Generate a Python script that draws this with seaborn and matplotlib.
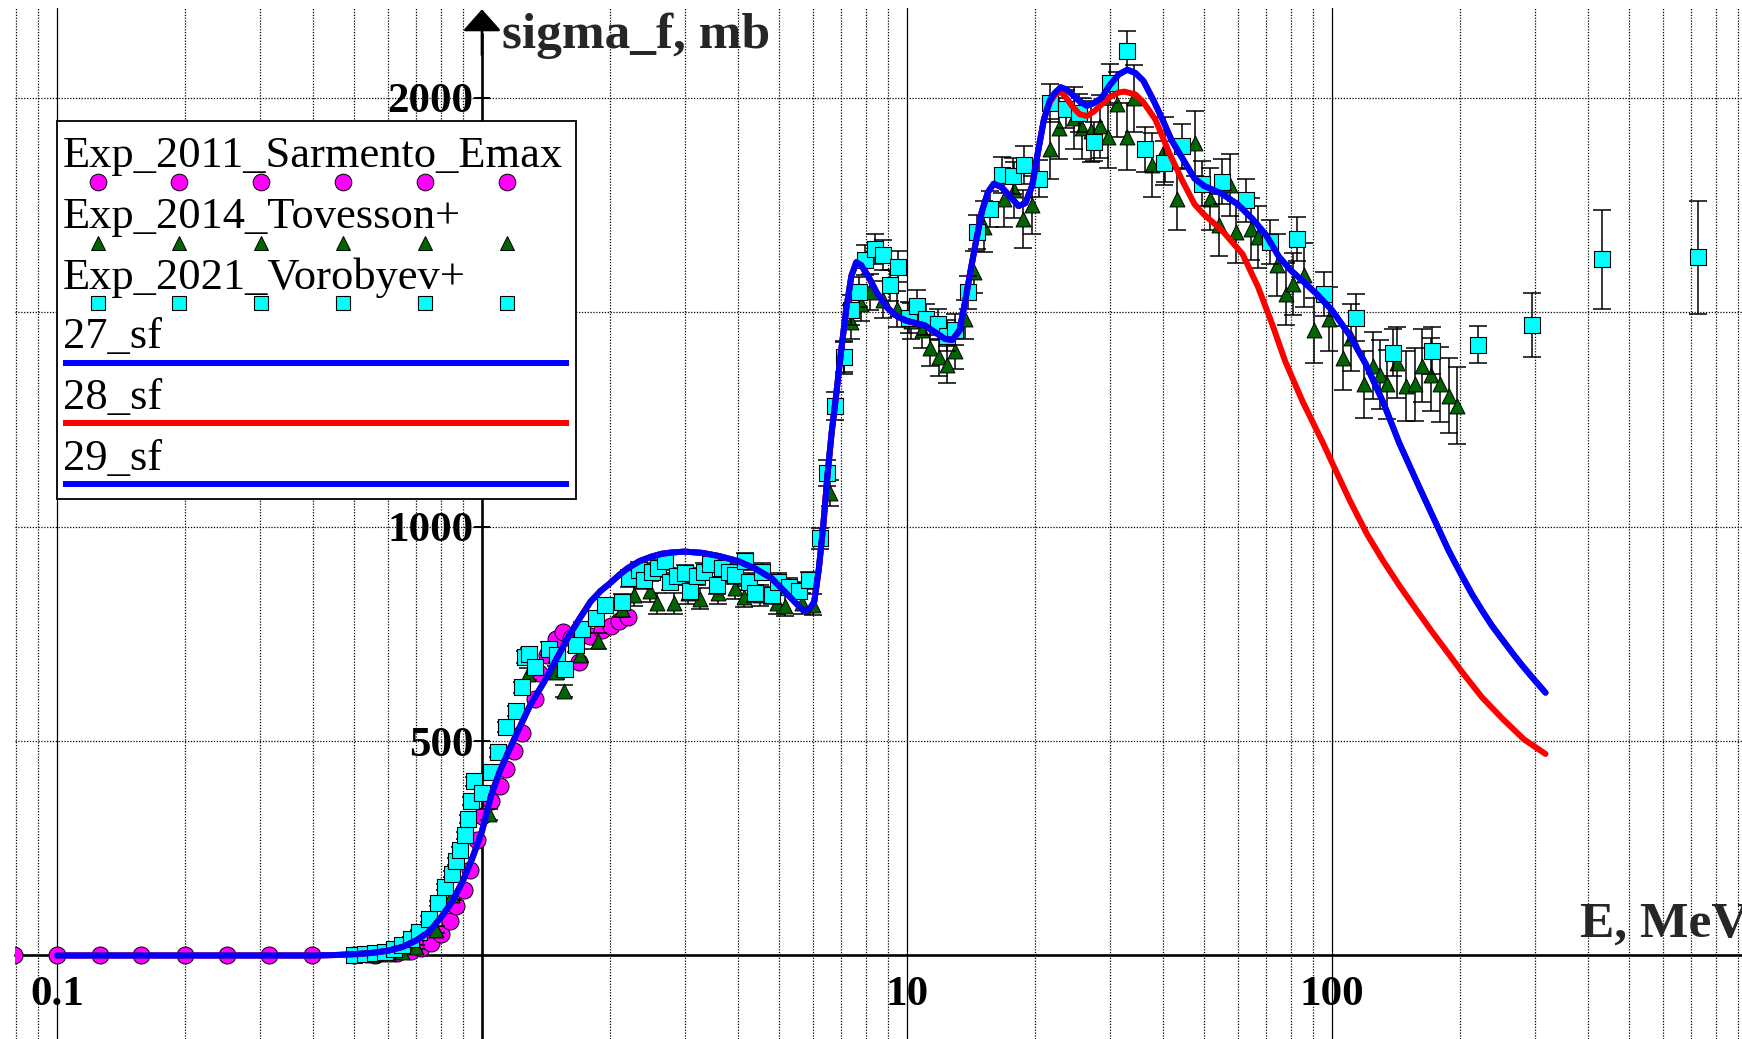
import matplotlib
matplotlib.use("Agg")
import matplotlib.pyplot as plt
import matplotlib.ticker as mticker
from matplotlib.patches import Rectangle
import numpy as np
import pandas as pd
import seaborn as sns

# ---------------- data ----------------
# Exp_2011_Sarmento_Emax  (magenta circles)
sar_E = [0.0794, 0.1, 0.126, 0.158, 0.2, 0.251, 0.316, 0.398, 0.501, 0.56,
         0.63, 0.68, 0.72, 0.76, 0.80, 0.84, 0.87, 0.907, 0.937, 0.973,
         1.0, 1.05, 1.1, 1.14, 1.19, 1.24, 1.33, 1.36, 1.42, 1.49,
         1.55, 1.62, 1.69, 1.80, 1.92, 2.01, 2.10, 2.20]
sar_y = [0, 0, 0, 0, 0, 0, 0, 0, 1, 2,
         5, 10, 17, 30, 50, 80, 115, 153, 200, 270,
         325, 360, 395, 434, 476, 520, 598, 660, 700, 738,
         755, 740, 685, 745, 760, 768, 780, 790]

# Exp_2014_Tovesson+  (green triangles)
tov_E = [0.55, 0.60, 0.65, 0.70, 0.78, 0.85, 1.04, 1.28, 1.49, 1.56, 1.70, 1.88, 2.13,
         2.28, 2.48, 2.58, 2.83, 3.05, 3.26, 3.60, 3.94, 4.13, 4.50, 4.94, 5.16, 5.66, 6.02,
         6.58, 7.10, 7.40, 7.80, 8.17, 8.80, 9.45, 10.2, 10.85, 11.3, 11.9, 12.4, 13.0, 13.7, 14.4,
         15.2, 16.9, 17.9, 18.8, 19.7, 21.7, 22.8, 24.7, 25.8, 27.1, 28.4, 29.7, 31.2, 32.9, 34.3,
         37.7, 40.5, 43.1, 47.5, 51.5, 54.2, 57.5, 59.6,
         64.6, 67.0, 74.2, 78.0, 80.9, 85.9, 90.5, 98.2, 106, 111, 119, 125, 130, 135, 142,
         149, 157, 163, 171, 180, 188, 197]
tov_y = [1, 3, 8, 20, 60, 140, 329, 656, 661, 617, 700, 734, 809,
         840, 849, 821, 821, 845, 832, 845, 856, 837, 840, 821, 816, 821, 818,
         1078, 1395, 1477, 1520, 1547, 1530, 1507, 1480, 1458, 1418, 1395, 1378, 1411, 1484, 1594,
         1700, 1765, 1786, 1718, 1750, 1880, 1929, 1953, 1929, 1922, 1934, 1910, 1985, 1910, 1999,
         1844, 1880, 1765, 1894, 1765, 1703, 1797, 1687,
         1694, 1676, 1610, 1543, 1566, 1587, 1458, 1484, 1394, 1441, 1332, 1376, 1355, 1332, 1383,
         1329, 1332, 1376, 1355, 1332, 1306, 1282]
tov_err = [3, 3, 4, 5, 8, 10, 12, 14, 15, 15, 16, 18, 20,
           25, 25, 25, 25, 25, 25, 25, 25, 25, 25, 25, 25, 25, 25,
           30, 38, 40, 40, 42, 42, 42, 42, 42, 43, 43, 43, 43, 45, 48,
           60, 65, 65, 68, 68, 70, 72, 72, 72, 72, 74, 74, 75, 78, 78,
           75, 75, 72, 75, 72, 72, 72, 72,
           72, 72, 72, 72, 72, 75, 75, 75, 75, 78, 78, 78, 80, 80, 82,
           82, 85, 85, 85, 88, 88, 90]

# Exp_2021_Vorobyev+  (cyan squares)
vor_E = [0.50, 0.53, 0.56, 0.59, 0.62, 0.65, 0.68, 0.71, 0.75, 0.79,
         0.82, 0.85, 0.87, 0.89, 0.91, 0.925, 0.94, 0.957, 1.00, 1.05,
         1.09, 1.14, 1.20, 1.24, 1.26, 1.29, 1.33, 1.44, 1.50, 1.57,
         1.66, 1.72, 1.85, 1.95, 2.13,
         2.22, 2.34, 2.40, 2.51, 2.60, 2.70, 2.77, 2.87, 3.00, 3.08,
         3.20, 3.33, 3.44, 3.57, 3.67, 3.81, 3.94, 4.16, 4.24, 4.39,
         4.55, 4.81, 4.98, 5.27, 5.57, 5.89,
         6.25, 6.49, 6.77, 7.10, 7.38, 7.70, 7.96, 8.40, 8.80, 9.10,
         9.55, 10.1, 10.56, 11.1, 11.8, 12.4, 12.96, 13.9, 14.6, 15.7,
         16.7, 17.8, 18.9, 20.5, 21.7, 23.7, 25.4, 27.6, 30.0, 32.9,
         36.3, 40.2, 44.3, 49.4, 55.0, 62.6, 71.6, 82.9, 95.7, 114,
         139, 172, 220, 295, 433, 727]
vor_y = [2, 3, 5, 8, 14, 25, 38, 55, 85, 122,
         160, 190, 220, 245, 280, 318, 360, 406, 380, 427,
         474, 533, 570, 626, 696, 703, 673, 716, 700, 668,
         723, 762, 786, 817, 825,
         880, 898, 875, 895, 903, 919, 872, 884, 891, 849,
         884, 895, 914, 863, 903, 895, 887, 919, 872, 845,
         895, 840, 872, 860, 851, 875,
         973, 1125, 1282, 1395, 1505, 1547, 1622, 1647, 1633, 1563,
         1606, 1488, 1516, 1484, 1472, 1446, 1460, 1547, 1688, 1741,
         1821, 1817, 1844, 1812, 1988, 1974, 1965, 1898, 2034, 2109,
         1880, 1848, 1887, 1800, 1805, 1761, 1664, 1671, 1543, 1488,
         1406, 1411, 1425, 1470, 1624, 1628]
vor_err = [2, 2, 2, 3, 3, 4, 4, 5, 6, 6,
           7, 7, 8, 8, 8, 9, 9, 10, 10, 11,
           11, 12, 12, 13, 14, 14, 14, 15, 15, 15,
           16, 16, 17, 17, 18,
           20, 20, 20, 20, 20, 20, 20, 20, 20, 20,
           20, 20, 20, 20, 20, 20, 20, 20, 20, 20,
           20, 20, 20, 20, 20, 20,
           25, 30, 32, 35, 35, 35, 35, 35, 35, 36,
           36, 36, 36, 36, 36, 36, 36, 38, 40, 42,
           42, 42, 44, 44, 45, 45, 45, 45, 45, 48,
           52, 52, 52, 52, 52, 50, 52, 52, 52, 55,
           55, 55, 44, 75, 115, 132]

# model curves: common part (27_sf, 28_sf, 29_sf coincide below ~21 MeV)
low_E = [0.10, 0.20, 0.30, 0.40, 0.45, 0.50, 0.55, 0.60, 0.65, 0.70,
         0.75, 0.80, 0.85, 0.90, 0.95, 1.00, 1.05, 1.10, 1.15, 1.20,
         1.30, 1.40, 1.50, 1.60, 1.70, 1.80, 1.90, 2.00, 2.10, 2.20,
         2.35, 2.50, 2.65, 2.80, 3.00, 3.30, 3.60, 4.00, 4.40, 4.80,
         5.20, 5.50, 5.70, 5.90, 6.05, 6.20, 6.35, 6.50, 6.65, 6.80,
         7.00, 7.20, 7.40, 7.60, 7.80, 8.10, 8.50, 9.00, 9.50, 10.0,
         11.0, 11.7, 12.3, 12.8, 13.3, 13.7, 14.1, 14.5, 15.0, 15.5,
         16.0, 16.7, 17.5, 18.3, 19.0, 19.7, 20.3, 21.0]
low_y = [0, 0, 0, 0, 1, 3, 6, 11, 20, 35,
         55, 88, 125, 172, 228, 290, 372, 428, 472, 512,
         585, 638, 693, 745, 787, 825, 850, 868, 887, 903,
         920, 930, 937, 940, 942, 939, 932, 920, 902, 880,
         845, 820, 805, 808, 825, 900, 1000, 1120, 1220, 1300,
         1410, 1510, 1585, 1617, 1610, 1585, 1545, 1510, 1490, 1480,
         1470, 1452, 1438, 1436, 1458, 1525, 1595, 1660, 1735, 1780,
         1800, 1792, 1770, 1748, 1755, 1795, 1870, 1950]

sf27_hi_E = [21.7, 22.3, 23.0, 23.7, 24.5, 25.5, 26.5, 27.5, 28.7, 30.0,
             31.5, 33.0, 34.5, 36.0, 38.0, 40.0, 42.0, 44.3, 47.5, 50.0,
             55.0, 60.0, 65.0, 70.0, 75.0, 80.0, 85.0, 92.0, 100, 110,
             120, 132, 144, 160, 174, 188, 202, 214, 225, 238,
             252, 266, 280, 298, 318]
sf27_hi_y = [1995, 2012, 2025, 2020, 2008, 1992, 1982, 1988, 2000, 2030,
             2055, 2066, 2058, 2040, 1995, 1948, 1900, 1862, 1812, 1795,
             1777, 1752, 1718, 1680, 1630, 1598, 1575, 1543, 1505, 1447,
             1380, 1290, 1195, 1095, 1017, 945, 886, 841, 806, 769,
             736, 705, 677, 645, 613]

sf28_hi_E = [21.7, 22.3, 23.0, 23.7, 24.5, 25.5, 26.5, 27.5, 28.7, 30.0,
             31.5, 32.5, 34.5, 36.0, 38.4, 41.4, 44.3, 47.5, 50.0, 55.0,
             61.6, 67.0, 72.3, 77.6, 85.2, 95.7, 100, 110, 121, 132,
             144, 158, 172, 186, 202, 225, 252, 283, 318]
sf28_hi_y = [1990, 2008, 2015, 2000, 1980, 1962, 1958, 1968, 1985, 2002,
             2013, 2015, 2008, 1990, 1950, 1872, 1810, 1752, 1728, 1692,
             1636, 1559, 1473, 1386, 1293, 1191, 1150, 1062, 982, 920,
             863, 806, 755, 710, 662, 603, 552, 504, 470]

sf27_E = low_E + sf27_hi_E
sf27_y = low_y + sf27_hi_y
sf28_E = low_E + sf28_hi_E
sf28_y = low_y + sf28_hi_y
sf29_E = list(sf27_E)
sf29_y = list(sf27_y)

legend_labels = ["Exp_2011_Sarmento_Emax", "Exp_2014_Tovesson+", "Exp_2021_Vorobyev+",
                 "27_sf", "28_sf", "29_sf"]

# ---------------- style ----------------
sns.set_theme(style="white")
plt.rcParams['font.family'] = ['Liberation Serif', 'DejaVu Serif']

MAG, GRN, CYA, BLU, RED = '#FF00FF', '#006400', '#00FFFF', '#0000FF', '#FF0000'

W, H = 1742, 1039
fig = plt.figure(figsize=(W / 100, H / 100), dpi=100)
fig.patch.set_facecolor('white')
ax = fig.add_axes([15 / W, 0, 1 - 15 / W, 1 - 8 / H])
ax.set_facecolor('white')
ax.set_xscale('log')
XMIN, XMAX = 0.07966, 922.0
YMIN, YMAX = -194.8, 2209.9

# grid lines
dot = (0, (1, 1.3))
for dec in [0.01, 0.1, 1, 10, 100]:
    for k in range(2, 10):
        ax.axvline(k * dec, color='black', lw=0.9, ls=dot, zorder=0.5)
for dec in [0.1, 10, 100]:
    ax.axvline(dec, color='black', lw=0.9, zorder=0.6)
for yv in [500, 1000, 1500, 2000]:
    ax.axhline(yv, color='black', lw=0.9, ls=dot, zorder=0.5)

# experimental data
df_sar = pd.DataFrame({'E': sar_E, 'sigma': sar_y})
sns.scatterplot(data=df_sar, x='E', y='sigma', ax=ax, marker='o', s=150, color=MAG,
                edgecolor='black', linewidth=0.7, zorder=2.8, legend=False)

ax.errorbar(tov_E, tov_y, yerr=tov_err, fmt='none', ecolor='black', elinewidth=1.1,
            capsize=6.5, capthick=1.1, zorder=3.0)
df_tov = pd.DataFrame({'E': tov_E, 'sigma': tov_y})
sns.scatterplot(data=df_tov, x='E', y='sigma', ax=ax, marker='^', s=115, color=GRN,
                edgecolor='black', linewidth=0.7, zorder=3.1, legend=False)

ax.errorbar(vor_E, vor_y, yerr=vor_err, fmt='none', ecolor='black', elinewidth=1.1,
            capsize=6.5, capthick=1.1, zorder=3.2)
df_vor = pd.DataFrame({'E': vor_E, 'sigma': vor_y})
sns.scatterplot(data=df_vor, x='E', y='sigma', ax=ax, marker='s', s=125, color=CYA,
                edgecolor='black', linewidth=0.8, zorder=3.3, legend=False)

# model curves
sns.lineplot(x=sf27_E, y=sf27_y, ax=ax, color=BLU, linewidth=4.3, estimator=None,
             sort=False, zorder=5.0, legend=False)
sns.lineplot(x=sf28_E, y=sf28_y, ax=ax, color=RED, linewidth=4.3, estimator=None,
             sort=False, zorder=5.1, legend=False)
sns.lineplot(x=sf29_E, y=sf29_y, ax=ax, color=BLU, linewidth=4.3, estimator=None,
             sort=False, zorder=5.2, legend=False)
for ln in ax.get_lines():
    ln.set_solid_joinstyle('round')

ax.set_xlim(XMIN, XMAX)
ax.set_ylim(YMIN, YMAX)
ax.set_xlabel('')
ax.set_ylabel('')

# axes through the origin (x = 1 MeV, sigma = 0)
for s in ['top', 'right']:
    ax.spines[s].set_visible(False)
ax.spines['left'].set_position(('data', 1))
ax.spines['bottom'].set_position(('data', 0))
ax.spines['left'].set_linewidth(1.9)
ax.spines['bottom'].set_linewidth(1.9)
ax.spines['left'].set_color('black')
ax.spines['bottom'].set_color('black')
ax.spines['left'].set_bounds(YMIN, 2150)
ax.spines['left'].set_zorder(2.5)
ax.spines['bottom'].set_zorder(2.5)

ax.xaxis.set_minor_locator(mticker.NullLocator())
ax.yaxis.set_minor_locator(mticker.NullLocator())
ax.set_xticks([0.1, 10, 100])
ax.set_xticklabels(['0.1', '10', '100'], fontsize=31, fontweight='bold')
ax.set_yticks([500, 1000, 2000])
ax.set_yticklabels(['500', '1000', '2000'], fontsize=31, fontweight='bold')
ax.tick_params(axis='x', bottom=True, length=0, pad=15, colors='black')
ax.tick_params(axis='y', left=True, direction='inout', length=11, width=1.4, pad=0.5,
               colors='black')

# y axis arrow head
ax.annotate('', xy=(1, 2207), xytext=(1, 2100),
            arrowprops=dict(arrowstyle='-|>,head_length=0.45,head_width=0.4',
                            mutation_scale=30, color='black', lw=1.9,
                            shrinkA=0, shrinkB=0),
            annotation_clip=False, zorder=7)

# axis titles
fig.text(502 / W, 1 - 48 / H, 'sigma_f, mb', fontsize=37, fontweight='bold',
         ha='left', va='baseline')
fig.text(1580 / W, 1 - 937 / H, 'E, MeV', fontsize=37, fontweight='bold',
         ha='left', va='baseline')

# ---------------- legend box (drawn like the original program) ----------------
tr = fig.transFigure


def fx(px):
    return px / W


def fy(py):
    return 1 - py / H


ax.add_patch(Rectangle((fx(56.5), fy(499)), fx(576) - fx(56.5), fy(121) - fy(499),
                       transform=tr, facecolor='white', edgecolor='black', lw=1.3,
                       zorder=20, clip_on=False))
baselines = [167, 228, 289, 348, 409, 470]
for lab, b in zip(legend_labels, baselines):
    ax.text(fx(63), fy(b), lab, transform=tr, fontsize=32, ha='left', va='baseline',
            zorder=21, color='black')
mx = [97.6, 179, 261, 343, 425, 507]
ax.plot([fx(v) for v in mx], [fy(182)] * 6, transform=tr, ls='none', marker='o', ms=12,
        mfc=MAG, mec='black', mew=0.7, zorder=22, clip_on=False)
ax.plot([fx(v) for v in mx], [fy(243)] * 6, transform=tr, ls='none', marker='^', ms=10,
        mfc=GRN, mec='black', mew=0.7, zorder=22, clip_on=False)
ax.plot([fx(v) for v in mx], [fy(303)] * 6, transform=tr, ls='none', marker='s', ms=10.5,
        mfc=CYA, mec='black', mew=0.8, zorder=22, clip_on=False)
for yy, c in [(363, BLU), (423, RED), (484, BLU)]:
    ax.plot([fx(63), fx(569)], [fy(yy)] * 2, transform=tr, color=c, lw=4.3,
            solid_capstyle='butt', zorder=22, clip_on=False)

ax.set_xlim(XMIN, XMAX)
ax.set_ylim(YMIN, YMAX)

fig.savefig('out.png', dpi=100, facecolor='white')
